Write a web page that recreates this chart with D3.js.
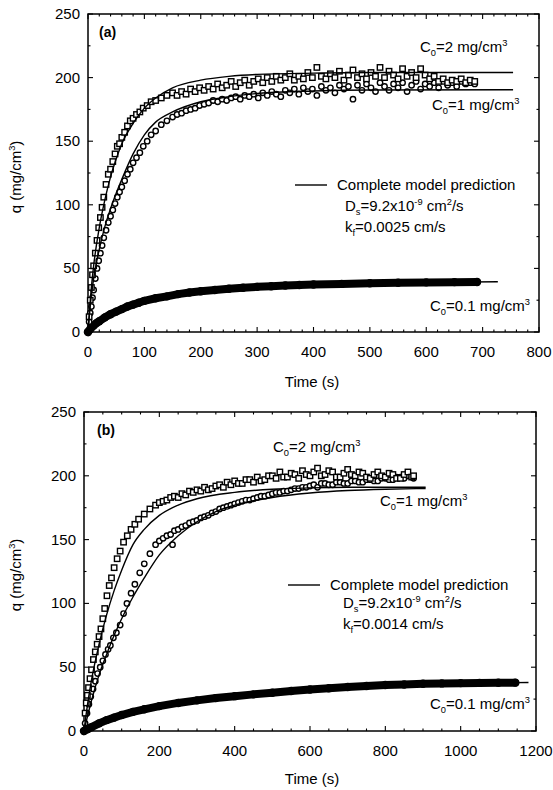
<!DOCTYPE html>
<html>
<head>
<meta charset="utf-8">
<script src="https://cdn.jsdelivr.net/npm/d3@7"></script>
<style>
  html, body { margin: 0; padding: 0; background: #fff; }
  svg { display: block; font-family: "Liberation Sans", Arial, sans-serif; }
</style>
</head>
<body>
<svg id="chart" width="553" height="790"></svg>
<script>
// ── Data ──────────────────────────────────────────────────────────────────────
// panel (a): [time s, q mg/cm3]
const aSq = [[2,12],[4,25],[6,35],[8,45],[10,52],[13,62],[16,72],[19,82],[22,90],[25,98],[28,106],[32,116],[36,124],[40,128],[44,134],[48,140],[52,146],[56,148],[60,153],[65,157],[70,162],[75,166],[80,168],[86,171],[92,173],[98,176],[105,178],[112,181],[120,182],[130,184],[140,186],
  [150,188],[158,186],[166,189],[174,187],[182,191],[190,189],[198,192],[206,190],[214,193],[222,191],[230,195],[238,192],[246,194],[254,197],[262,193],[270,196],[278,198],[286,194],[294,197],[302,199],[310,196],[318,200],[326,197],[334,201],[342,198],[350,200],[358,203],[366,198],[374,201],[382,199],[390,204],[398,200],[406,208],[414,201],[422,199],[430,203],[438,200],[446,205],[454,198],[462,202],[470,206],[478,200],[486,203],[494,199],[502,204],[510,201],[518,208],[526,200],[534,205],[542,202],[550,199],[558,207],[566,201],[574,204],[582,200],[590,207],[598,202],[606,199],[614,201],[622,197],[630,199],[638,196],[646,198],[654,197],[662,199],[670,196],[678,198],[686,197]];
const aCi = [[2,8],[4,15],[6,20],[8,27],[10,33],[13,42],[16,50],[19,56],[22,62],[25,68],[28,74],[32,80],[36,86],[40,91],[44,96],[48,101],[52,106],[56,110],[60,114],[65,119],[70,124],[75,128],[80,133],[86,137],[92,141],[98,146],[105,150],[112,155],[120,158],[130,163],[140,166],
  [150,169],[158,171],[166,172],[174,174],[182,175],[190,176],[198,178],[206,179],[214,180],[222,182],[230,181],[238,183],[246,182],[254,184],[262,185],[270,183],[278,186],[286,185],[294,187],[302,184],[310,188],[318,186],[326,189],[334,187],[342,185],[350,190],[358,188],[366,191],[374,187],[382,192],[390,189],[398,191],[406,186],[414,193],[422,190],[430,192],[438,188],[446,194],[454,191],[462,193],[470,183],[478,194],[486,190],[494,195],[502,192],[510,189],[518,196],[526,193],[534,190],[542,195],[550,192],[558,196],[566,189],[574,194],[582,197],[590,191],[598,195],[606,193],[614,196],[622,192],[630,197],[638,194],[646,196],[654,193],[662,197],[670,195],[678,196],[686,195]];
const aLow = [[0,0],[5,3],[10,5],[15,7],[20,8.5],[30,11.5],[40,14],[50,16],[60,18],[70,20],[80,21.5],[90,23],[100,24.5],[120,26.5],[140,28],[160,29.8],[180,31],[200,32],[225,33],[250,34],[275,34.8],[300,35.5],[325,36],[350,36.5],[375,37],[400,37.3],[450,37.8],[500,38.3],[550,38.7],[600,39],[650,39.2],[690,39.3]];
const aFit2 = [[0,0],[5,30],[10,52],[20,82],[30,104],[40,122],[50,136],[60,148],[80,164],[100,176],[120,184],[150,192],[200,198],[250,201],[300,202.5],[400,203.5],[500,204],[600,204],[754,204]];
const aFit1 = [[0,0],[5,25],[10,42],[20,65],[30,83],[40,97],[50,109],[60,120],[80,140],[100,155],[120,165],[150,173],[200,181],[250,185],[300,187.5],[400,189.5],[500,190.3],[754,190.5]];
const aFit01 = [[0,0],[10,5],[20,8.5],[40,14],[60,18],[100,24.5],[150,29],[200,32],[300,35.5],[400,37.3],[500,38.3],[600,39],[727,39.5]];

// panel (b)
const bSq = [[3,14],[6,22],[9,28],[12,34],[16,41],[20,48],[25,56],[30,62],[35,68],[40,74],[45,80],[50,88],[55,96],[61,106],[67,114],[73,120],[80,128],[88,135],[96,141],[105,148],[115,153],[125,158],[135,162],[145,166],[160,170],[175,174],[190,177],
  [200,179],[210,180],[220,181],[230,183],[240,184],[250,183],[260,186],[270,185],[280,188],[290,187],[300,189],[310,188],[320,191],[330,189],[340,190],[350,192],[360,193],[370,191],[380,195],[390,193],[400,196],[410,194],[420,194],[430,197],[440,197],[450,195],[460,199],[470,196],[480,197],[490,200],[500,200],[510,198],[520,203],[530,199],[540,199],[550,202],[560,201],[570,198],[580,204],[590,201],[600,200],[610,203],[620,206],[630,200],[640,201],[650,204],[660,203],[670,199],[680,199],[690,202],[700,205],[710,201],[720,200],[730,203],[740,202],[750,199],[760,198],[770,201],[780,203],[790,200],[800,199],[810,202],[820,201],[830,198],[840,198],[850,201],[860,203],[870,199],[875,200]];
const bCi = [[3,6],[8,14],[13,21],[18,27],[24,33],[30,39],[36,45],[43,50],[50,55],[57,60],[64,64],[70,67],[78,73],[86,77],[96,83],[105,92],[114,100],[125,108],[135,115],[148,124],[160,131],[175,139],[190,146],
  [200,149],[210,151],[220,153],[230,154],[235,146],[240,157],[250,158],[260,160],[270,161],[280,163],[290,164],[300,165],[310,167],[320,168],[330,169],[340,171],[350,172],[360,174],[370,175],[380,176],[390,177],[400,178],[410,179],[420,180],[430,181],[440,181],[450,182],[460,183],[470,184],[480,184],[490,185],[500,186],[510,187],[520,187],[530,188],[540,188],[550,189],[560,190],[570,190],[580,191],[590,191],[600,192],[610,193],[620,191],[630,194],[640,194],[650,193],[660,193],[670,195],[680,195],[690,194],[700,194],[710,196],[720,196],[730,195],[740,195],[750,197],[760,197],[770,196],[780,196],[790,198],[800,198],[810,197],[820,197],[830,199],[840,199],[850,198],[860,200],[870,199],[875,198]];
const bLow = [[0,0],[10,1.5],[20,3],[40,6],[60,8.5],[80,10.5],[100,12.5],[130,15],[160,17],[200,19.5],[250,22],[300,24],[350,25.8],[400,27.3],[450,28.7],[500,30],[550,31.3],[600,32.5],[650,33.5],[700,34.5],[750,35.3],[800,36],[850,36.5],[900,37],[950,37.3],[1000,37.5],[1050,37.7],[1100,37.8],[1145,37.9]];
const bFit2 = [[0,0],[10,22],[20,40],[40,68],[60,91],[80,110],[100,126],[130,146],[160,158],[200,169],[250,177],[300,182],[400,187],[500,189.5],[600,190.5],[700,191],[907,191]];
const bFit1 = [[0,0],[20,24],[40,44],[60,60],[80,75],[100,88],[130,105],[160,120],[200,138],[250,153],[300,164],[350,172],[400,177],[500,183],[600,186.5],[700,188.5],[800,189.5],[907,190]];
const bFit01 = [[0,0],[20,3],[60,8.5],[100,12.5],[200,19.5],[300,24],[400,27.3],[500,30],[600,32.5],[700,34.5],[800,36],[900,37],[1000,37.5],[1100,37.8],[1180,38]];

const aTicksX = [0,100,200,300,400,500,600,700,800];
const bTicksX = [0,200,400,600,800,1000,1200];
const qTicks = [0,50,100,150,200,250];

const svg = d3.select('#chart');

// text with sub/superscripts: parts = [[str, 'n'|'sub'|'sup'], ...]
function rich(g, x, y, parts, size, weight) {
  const t = g.append('text').attr('x', x).attr('y', y)
    .attr('font-size', size).attr('font-weight', weight || 'normal').attr('fill', '#000');
  let shift = 0;
  parts.forEach(([s, k]) => {
    const target = k === 'sub' ? 3.5 : k === 'sup' ? -6 : 0;
    t.append('tspan').attr('dy', target - shift)
      .attr('font-size', k === 'n' ? size : size * 0.62).text(s);
    shift = target;
  });
  return t;
}

function panel(o) {
  const g = svg.append('g');
  const x = d3.scaleLinear().domain([0, o.xmax]).range([o.x0, o.x1]);
  const y = d3.scaleLinear().domain([0, 250]).range([o.y0, o.y1]);

  // frame
  g.append('rect').attr('x', o.x0).attr('y', o.y1)
    .attr('width', o.x1 - o.x0).attr('height', o.y0 - o.y1)
    .attr('fill', 'none').attr('stroke', '#000').attr('stroke-width', 1.5);

  // inward ticks on all four sides
  const xMinor = d3.range(0, o.xmax + 1, o.xminor);
  const yMinor = d3.range(0, 251, 25);
  const tk = g.append('g').attr('stroke', '#000').attr('stroke-width', 1.1);
  xMinor.forEach(v => {
    const L = v % o.xstep === 0 ? 5 : 2.5;
    tk.append('line').attr('x1', x(v)).attr('x2', x(v)).attr('y1', o.y0).attr('y2', o.y0 - L);
    tk.append('line').attr('x1', x(v)).attr('x2', x(v)).attr('y1', o.y1).attr('y2', o.y1 + L);
  });
  yMinor.forEach(v => {
    const L = v % 50 === 0 ? 5 : 2.5;
    tk.append('line').attr('y1', y(v)).attr('y2', y(v)).attr('x1', o.x0).attr('x2', o.x0 + L);
    tk.append('line').attr('y1', y(v)).attr('y2', y(v)).attr('x1', o.x1).attr('x2', o.x1 - L);
  });

  // tick labels
  g.append('g').selectAll('text').data(o.xticks).join('text')
    .attr('x', d => x(d)).attr('y', o.y0 + 25).attr('text-anchor', 'middle')
    .attr('font-size', 15).text(d => d);
  g.append('g').selectAll('text').data(qTicks).join('text')
    .attr('x', o.x0 - 8).attr('y', d => y(d) + 5).attr('text-anchor', 'end')
    .attr('font-size', 15).text(d => d);

  // axis titles
  g.append('text').attr('x', 312).attr('y', o.y0 + o.tly).attr('text-anchor', 'middle')
    .attr('font-size', 15).text('Time (s)');
  const yl = rich(g, 0, 0, [['q (mg/cm', 'n'], ['3', 'sup'], [')', 'n']], 15);
  yl.attr('text-anchor', 'middle')
    .attr('transform', `translate(${o.ylx},${o.yly}) rotate(-90)`);

  const line = d3.line().x(d => x(d[0])).y(d => y(d[1]));
  const marks = g.append('g');

  // low-concentration band (dense filled markers)
  marks.append('path').datum(o.low).attr('d', line).attr('fill', 'none')
    .attr('stroke', '#000').attr('stroke-width', 8).attr('stroke-linecap', 'round');
  marks.append('g').selectAll('circle').data(o.low).join('circle')
    .attr('cx', d => x(d[0])).attr('cy', d => y(d[1])).attr('r', 4.2).attr('fill', '#000');

  // open circles
  marks.append('g').selectAll('circle').data(o.ci).join('circle')
    .attr('cx', d => x(d[0])).attr('cy', d => y(d[1])).attr('r', 2.7)
    .attr('fill', '#fff').attr('stroke', '#000').attr('stroke-width', 1.4);
  // open squares
  marks.append('g').selectAll('rect').data(o.sq).join('rect')
    .attr('x', d => x(d[0]) - 2.7).attr('y', d => y(d[1]) - 2.7)
    .attr('width', 5.4).attr('height', 5.4)
    .attr('fill', '#fff').attr('stroke', '#000').attr('stroke-width', 1.4);

  // model curves
  [o.fit2, o.fit1, o.fit01].forEach(f => {
    marks.append('path').datum(f).attr('d', line.curve(d3.curveMonotoneX))
      .attr('fill', 'none').attr('stroke', '#000').attr('stroke-width', 1.4);
  });

  // annotations
  g.append('text').attr('x', o.tag[0]).attr('y', o.tag[1]).attr('font-size', 14)
    .attr('font-weight', 'bold').text(o.tagText);
  rich(g, o.c2[0], o.c2[1], [['C', 'n'], ['0', 'sub'], ['=2 mg/cm', 'n'], ['3', 'sup']], 15);
  rich(g, o.c1[0], o.c1[1], [['C', 'n'], ['0', 'sub'], ['=1 mg/cm', 'n'], ['3', 'sup']], 15);
  rich(g, o.c01[0], o.c01[1], [['C', 'n'], ['0', 'sub'], ['=0.1 mg/cm', 'n'], ['3', 'sup']], 15);
  g.append('line').attr('x1', o.leg[0]).attr('x2', o.leg[0] + 32)
    .attr('y1', o.leg[1]).attr('y2', o.leg[1]).attr('stroke', '#000').attr('stroke-width', 1.4);
  g.append('text').attr('x', o.leg[0] + 42).attr('y', o.leg[1] + 5).attr('font-size', 15)
    .text('Complete model prediction');
  rich(g, o.ds[0], o.ds[1], [['D', 'n'], ['s', 'sub'], ['=9.2x10', 'n'], ['-9', 'sup'], [' cm', 'n'], ['2', 'sup'], ['/s', 'n']], 15);
  rich(g, o.ds[0], o.ds[1] + 21, [['k', 'n'], ['f', 'sub'], ['=' + o.kf + ' cm/s', 'n']], 15);
}

panel({
  xmax: 800, xstep: 100, xminor: 20, xticks: aTicksX,
  x0: 88, x1: 539, y0: 332, y1: 14, ylx: 21, yly: 177, tly: 55,
  sq: aSq, ci: aCi, low: aLow, fit2: aFit2, fit1: aFit1, fit01: aFit01,
  tag: [99, 37], tagText: '(a)', c2: [420, 52], c1: [432, 110], c01: [430, 311],
  leg: [295, 185], ds: [345, 211], kf: '0.0025'
});

panel({
  xmax: 1200, xstep: 200, xminor: 50, xticks: bTicksX,
  x0: 84, x1: 536, y0: 731, y1: 412, ylx: 21, yly: 575, tly: 53,
  sq: bSq, ci: bCi, low: bLow, fit2: bFit2, fit1: bFit1, fit01: bFit01,
  tag: [97, 435], tagText: '(b)', c2: [273, 452], c1: [380, 506], c01: [430, 709],
  leg: [288, 585], ds: [343, 608], kf: '0.0014'
});
</script>
</body>
</html>
